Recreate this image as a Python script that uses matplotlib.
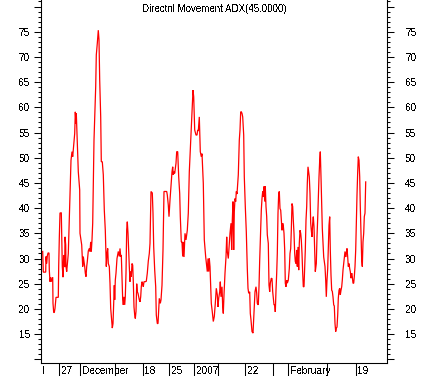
import matplotlib
matplotlib.use("Agg")
import matplotlib.pyplot as plt
from matplotlib.ticker import FixedLocator, MultipleLocator, NullFormatter

# ADX(45) readings as (bar, value); one bar is roughly one trading hour
nov_pts = [
    (1.7, 31.4), (2.3, 27.3), (4.7, 27.3), (5.0, 30.4), (5.7, 29.0), (6.3, 30.5),
    (7.0, 31.1), (8.0, 31.1), (8.3, 27.7), (9.0, 25.4), (9.7, 26.3), (10.3, 25.4),
    (11.7, 26.3), (12.0, 21.1), (12.7, 19.3), (13.3, 19.3), (14.0, 20.1), (15.0, 22.3),
    (17.3, 22.3), (17.7, 28.5), (18.3, 34.0), (19.0, 39.0), (20.3, 39.1), (20.7, 34.3),
    (21.3, 28.4), (22.0, 26.3), (22.7, 30.7), (23.7, 28.3), (24.0, 34.3), (24.7, 32.7),
    (25.0, 28.4), (25.7, 27.4), (26.7, 29.7), (27.3, 31.0), (28.0, 35.8), (29.3, 45.0),
    (30.0, 49.5), (31.0, 51.2), (31.7, 50.2), (32.3, 51.5), (33.0, 53.2), (33.7, 54.8),
    (34.3, 59.1), (35.0, 56.8), (35.3, 58.8), (36.0, 54.8), (36.7, 50.5), (37.3, 47.2),
    (38.0, 45.3), (38.7, 43.6),
]

dec_pts = [
    (39.0, 35.0), (40.7, 32.7), (41.7, 28.4), (42.3, 30.4), (43.0, 29.4), (43.7, 28.4),
    (44.3, 27.1), (45.0, 26.4), (45.7, 28.4), (46.3, 29.4), (47.3, 31.5), (48.3, 32.0),
    (49.0, 31.4), (49.7, 33.3), (50.3, 31.4), (51.0, 33.7), (51.7, 37.0), (52.3, 44.9),
    (53.0, 53.5), (54.0, 59.5), (54.7, 64.1), (55.3, 70.4), (56.3, 72.7), (57.3, 75.3),
    (58.0, 73.4), (58.7, 65.4), (59.7, 58.1), (60.3, 49.2), (61.3, 49.2), (62.3, 46.6),
    (63.3, 39.6), (64.3, 35.6), (65.3, 28.4), (66.0, 31.0), (66.7, 32.0), (67.3, 29.0),
    (68.3, 28.4), (69.0, 25.1), (69.7, 20.1), (70.7, 17.5), (71.3, 16.2), (72.0, 17.1),
    (72.7, 21.1), (73.3, 24.7), (73.7, 21.8), (74.3, 25.7), (75.0, 27.1), (76.0, 30.0),
    (77.3, 31.4), (78.3, 30.4), (79.0, 32.0), (79.7, 30.4), (80.3, 30.7), (81.0, 26.1),
    (81.7, 21.8), (82.3, 20.8), (83.0, 22.4), (83.7, 20.8), (84.3, 22.4), (85.0, 27.1),
    (85.7, 35.7), (86.3, 37.3), (87.0, 35.0), (87.7, 31.4), (88.3, 28.4), (89.0, 25.4),
    (89.7, 27.4), (90.3, 26.4), (91.0, 29.0), (91.7, 28.7), (92.3, 25.4), (93.0, 20.4),
    (93.7, 18.8), (94.3, 18.1), (95.0, 19.5), (95.7, 25.0), (96.3, 23.4), (97.0, 23.1),
    (98.3, 21.8), (99.0, 21.4), (99.7, 22.4), (100.3, 24.4), (101.0, 25.4), (101.7, 25.0),
    (102.3, 24.4), (103.0, 25.4), (104.3, 25.4), (105.3, 25.5), (106.3, 27.1), (107.3, 29.5),
    (108.3, 31.0), (109.0, 33.0), (110.0, 43.3), (111.3, 43.0), (112.0, 39.0), (112.7, 32.3),
    (113.7, 27.7), (114.7, 24.4), (115.3, 18.8), (116.3, 17.1), (117.0, 17.1), (117.7, 19.8),
    (118.3, 22.1), (119.3, 21.1), (120.0, 21.8), (121.0, 24.7), (122.0, 31.7), (123.0, 43.3),
    (125.7, 43.3), (126.3, 42.6), (127.3, 40.6), (128.0, 38.3), (129.0, 41.6), (130.0, 44.3),
    (131.0, 47.2), (131.7, 48.2), (132.3, 46.6), (133.0, 47.2), (133.7, 46.9), (135.0, 48.9),
    (135.7, 51.2), (136.7, 51.2), (137.7, 46.2), (138.7, 42.9), (139.3, 38.3), (140.3, 33.3),
    (141.0, 33.3), (141.7, 30.4), (142.3, 33.3), (143.0, 30.3), (144.0, 35.0), (145.0, 33.7),
    (146.3, 35.6), (147.3, 39.0), (148.3, 47.2), (149.3, 51.5), (150.3, 56.2), (151.3, 60.1),
    (152.0, 63.4), (152.7, 62.1),
]

jan_pts = [
    (153.7, 55.5), (155.0, 54.5), (156.0, 54.5), (156.7, 55.5), (157.3, 55.3), (158.3, 58.1),
    (159.3, 51.2), (160.3, 50.2), (161.0, 50.8), (162.3, 44.9), (163.3, 33.7), (164.7, 30.3),
    (165.7, 28.4), (166.3, 27.4), (167.0, 30.0), (167.7, 27.4), (168.3, 30.0), (169.0, 28.4),
    (169.7, 24.4), (170.3, 21.1), (171.3, 19.4), (172.3, 17.5), (173.3, 18.5), (174.3, 21.1),
    (175.3, 24.1), (176.3, 22.8), (177.0, 20.4), (177.7, 22.1), (178.7, 23.4), (179.3, 25.4),
    (180.0, 22.4), (181.0, 24.4), (181.7, 20.4), (182.3, 19.1), (183.0, 22.8), (184.0, 27.1),
    (185.0, 30.3), (185.7, 34.3), (186.3, 31.4), (187.3, 30.0), (188.0, 32.0), (189.0, 35.0),
    (190.0, 37.0), (190.7, 31.7), (191.3, 37.6), (192.0, 41.3), (192.7, 31.7), (193.3, 39.3),
    (194.0, 41.9), (194.7, 41.3), (195.3, 43.3), (196.0, 42.8), (196.7, 44.9), (197.3, 46.6),
    (198.3, 53.5), (199.0, 55.5), (199.7, 59.1), (200.3, 59.1), (201.0, 58.8), (201.7, 58.1),
    (202.7, 54.5), (203.3, 46.2), (204.3, 40.3), (205.3, 35.3), (206.3, 28.0), (207.0, 24.1),
    (207.7, 23.1), (208.7, 23.4), (209.3, 19.1), (210.0, 17.8), (211.0, 15.5), (212.0, 15.2),
    (213.0, 19.1), (214.0, 23.4), (215.0, 24.4), (215.7, 23.1), (216.3, 21.1), (217.3, 20.8),
    (218.0, 24.4), (218.7, 29.7), (219.7, 36.3), (220.3, 39.6), (221.0, 41.9), (221.7, 43.3),
    (222.3, 42.3), (223.0, 44.3), (223.7, 41.3), (224.3, 44.3), (225.0, 40.3), (225.7, 38.3),
    (226.3, 34.7), (227.3, 33.0), (228.0, 24.7), (228.7, 23.4), (229.3, 25.1), (230.3, 26.1),
    (231.0, 26.0), (231.7, 23.4), (232.3, 22.1), (233.0, 20.8), (233.7, 20.8), (234.3, 19.4),
    (235.0, 23.7), (235.7, 27.1), (236.3, 31.0), (237.0, 39.0), (237.7, 42.9), (238.3, 43.3),
    (239.0, 39.9), (239.7, 39.6), (240.3, 37.6), (241.0, 35.6), (241.7, 37.0), (242.3, 36.5),
    (243.0, 35.0), (243.7, 31.7), (244.3, 25.1), (245.0, 24.4), (245.7, 25.7), (246.3, 25.1),
]

feb_pts = [
    (247.3, 25.7), (248.3, 28.0), (249.0, 31.0), (249.7, 32.0), (250.3, 35.6), (251.0, 40.9),
    (251.7, 40.3), (252.3, 37.6), (253.0, 35.0), (253.7, 31.0), (254.3, 29.4), (255.0, 29.0),
    (255.7, 31.7), (256.3, 28.4), (257.0, 32.3), (257.7, 27.7), (258.3, 33.0), (259.0, 35.6),
    (259.7, 35.0), (260.3, 33.7), (261.0, 31.0), (261.7, 27.1), (262.3, 24.4), (263.0, 24.4),
    (263.7, 28.4), (264.3, 31.7), (265.0, 37.6), (265.7, 40.3), (266.3, 44.9), (267.0, 48.2),
    (267.7, 47.2), (268.3, 46.2), (269.0, 42.9), (269.7, 37.0), (270.3, 35.6), (271.0, 34.3),
    (271.7, 37.0), (272.3, 38.3), (273.0, 36.3), (273.7, 31.7), (274.3, 27.4), (275.3, 29.0),
    (276.0, 34.3), (276.7, 38.0), (277.3, 41.9), (278.0, 46.2), (278.7, 49.5), (279.3, 51.2),
    (280.0, 46.2), (280.7, 40.3), (281.3, 36.0), (282.0, 33.3), (282.7, 30.3), (284.0, 28.4),
    (284.7, 25.7), (285.3, 22.4), (286.0, 25.7), (286.7, 28.0), (287.3, 32.3), (288.0, 36.6),
    (288.7, 38.3), (289.3, 31.7), (290.0, 26.7), (290.7, 23.7), (291.3, 23.5), (292.0, 22.4),
    (292.7, 20.8), (293.3, 20.6), (294.0, 17.1), (294.7, 15.5), (295.3, 16.2), (296.0, 16.4),
    (296.7, 18.8), (297.3, 22.1), (298.0, 23.7), (298.7, 24.1), (299.3, 22.8), (300.0, 23.7),
    (300.7, 24.4), (301.3, 25.7), (302.0, 27.7), (302.7, 29.0), (303.3, 30.3), (304.0, 31.4),
    (304.7, 30.3), (305.3, 31.0), (306.0, 32.0), (306.7, 30.3), (307.3, 28.4), (308.0, 29.0),
    (308.7, 28.0), (309.3, 27.4), (310.0, 26.1), (310.7, 27.1), (311.3, 26.4), (312.0, 25.1),
    (312.7, 25.1), (313.3, 26.4), (314.0, 28.4), (314.7, 31.7), (315.3, 37.0), (316.0, 42.6),
    (316.7, 47.2), (317.3, 50.2), (318.0, 49.5), (318.7, 46.2), (319.3, 40.3), (320.0, 35.0),
    (320.7, 29.7), (321.3, 28.4), (322.0, 33.3), (322.7, 35.0), (323.3, 38.3), (324.0, 39.0),
    (324.7, 45.2),
]

# date axis: tick bars and their labels
date_ticks = [18.3, 39.0, 73.7, 101.7, 128.3, 153.0, 176.7, 204.0, 232.3, 247.3, 286.3, 314.7]
date_labels = ["27", "December", "", "18", "25", "2007", "", "22", "", "February", "", "19"]

value_ticks = [10, 15, 20, 25, 30, 35, 40, 45, 50, 55, 60, 65, 70, 75, 80]
value_labels = ["", "15", "20", "25", "30", "35", "40", "45", "50", "55", "60", "65", "70", "75", ""]

title = "Directnl Movement ADX(45.0000)"

plt.rcParams["font.family"] = ["Liberation Sans", "DejaVu Sans"]
plt.rcParams["text.antialiased"] = False

W, H = 428, 376
fig = plt.figure(figsize=(W / 100, H / 100), dpi=100)
ax = fig.add_axes([41 / W, (H - 362.7) / H, 346 / W, 362.7 / H])

bars, adx = zip(*(nov_pts + dec_pts + jan_pts + feb_pts))
ax.plot(bars, adx, color="#ff0000", linewidth=0.9, solid_joinstyle="miter")

ax.set_xlim(0, 346)
ax.set_ylim(9.33, 81.29)

ax.spines["top"].set_visible(False)
for side in ["left", "right", "bottom"]:
    ax.spines[side].set_linewidth(0.75)
    ax.spines[side].set_color("black")

# x axis: long separator ticks, labels sit to the right of each tick
ax.xaxis.set_major_locator(FixedLocator(date_ticks))
ax.xaxis.set_major_formatter(NullFormatter())
ax.tick_params(axis="x", direction="out", length=9.5, width=0.75, color="black")
for pos, lab in zip(date_ticks, date_labels):
    if lab:
        ax.annotate(lab, xy=(pos, 0), xycoords=("data", "axes fraction"),
                    xytext=(1.4, -5.8), textcoords="offset points",
                    ha="left", va="center", fontsize=7.3)
ax.annotate("l", xy=(2.3, 0), xycoords=("data", "axes fraction"),
            xytext=(0, -5.8), textcoords="offset points",
            ha="center", va="center", fontsize=7.3)

# y axes on both sides
ax2 = ax.twinx()
ax2.set_ylim(ax.get_ylim())
ax2.spines["top"].set_visible(False)
for side in ["left", "right", "bottom"]:
    ax2.spines[side].set_linewidth(0.75)
for a, pad in [(ax, 3.2), (ax2, 8.3)]:
    a.yaxis.set_major_locator(FixedLocator(value_ticks))
    a.set_yticklabels(value_labels)
    a.yaxis.set_minor_locator(MultipleLocator(1))
    a.tick_params(axis="y", which="major", direction="out", length=4.7, width=0.75,
                  labelsize=7.3, pad=pad)
    a.tick_params(axis="y", which="minor", direction="out", length=2.4, width=0.75)

fig.text(214 / W, 1 - 9 / H, title, ha="center", va="center", fontsize=7)

fig.savefig("out.png", dpi=100)
